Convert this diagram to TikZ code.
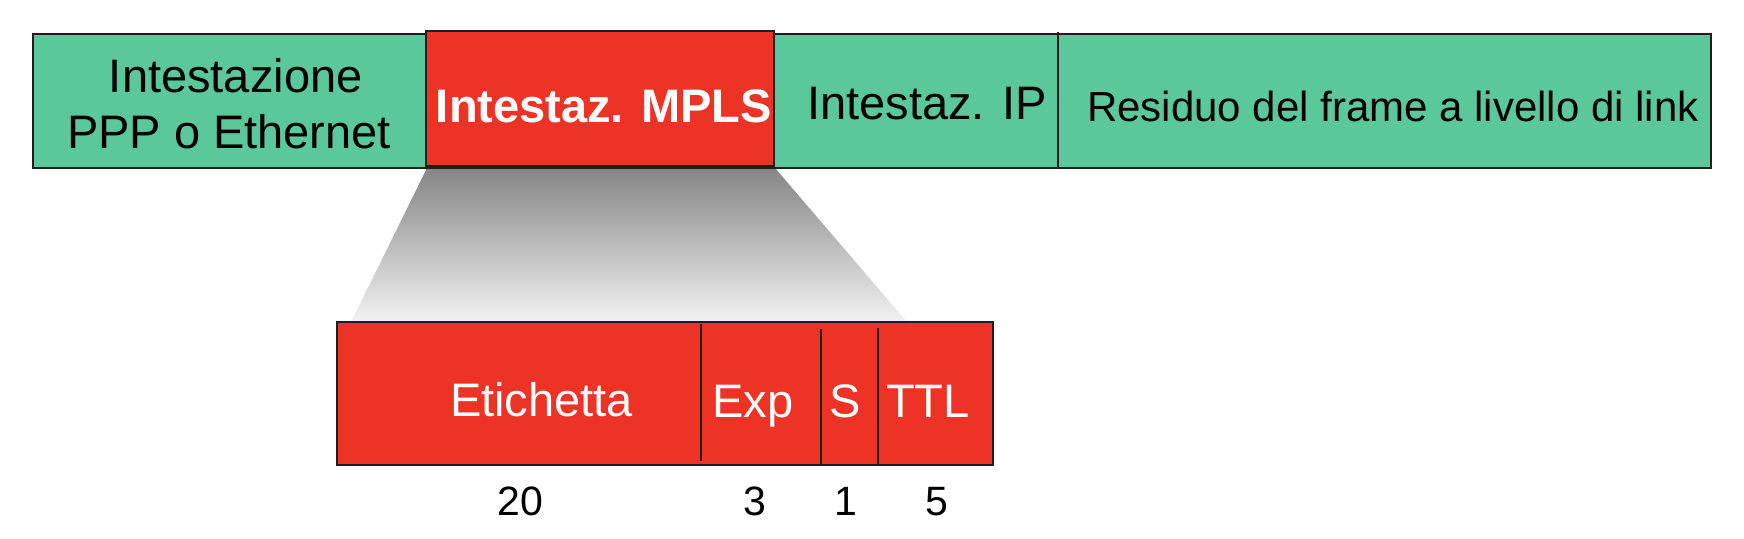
\documentclass[tikz,border=0pt]{standalone}
\usepackage{fontspec}
\setmainfont{Liberation Sans}
\definecolor{grn}{RGB}{90,200,155}
\definecolor{redf}{RGB}{236,51,37}
\definecolor{edgec}{RGB}{30,30,30}
\definecolor{shtop}{RGB}{133,133,133}
\definecolor{shbot}{RGB}{242,242,242}
\begin{document}
\begin{tikzpicture}[x=1pt,y=-1pt,
  box/.style={draw=edgec, line width=2.5pt, inner sep=0pt, outer sep=0pt, anchor=north west},
  greenbox/.style={box, fill=grn},
  redbox/.style={box, fill=redf},
  divider/.style={draw=edgec, line width=2pt},
  txt/.style={anchor=base, inner sep=0pt, font=\fontsize{47}{56}\selectfont},
  wtxt/.style={txt, text=white},
  numtxt/.style={anchor=base, inner sep=0pt, font=\fontsize{41}{49}\selectfont}]
\useasboundingbox (0,0) rectangle (1744,538);
% zoom shading
\coordinate (tl) at (427,168);
\coordinate (tr) at (775,168);
\coordinate (br) at (907,322);
\coordinate (bl) at (351,322);
\shade[top color=shtop, bottom color=shbot] (tl) -- (tr) -- (br) -- (bl) -- cycle;
% top frame
\node[greenbox, minimum width=1678pt, minimum height=134pt] (bar) at (33,34) {};
\node[redbox, minimum width=348pt, minimum height=135pt] (mpls) at (426,31) {};
\coordinate (d0t) at (1058,31.5);
\coordinate (d0b) at (1058,168);
\draw[divider] (d0t) -- (d0b);
% MPLS header detail
\node[redbox, minimum width=656pt, minimum height=143pt] (hdr) at (337,322) {};
\coordinate (d1t) at (701,324); \coordinate (d1b) at (701,461);
\coordinate (d2t) at (821,329); \coordinate (d2b) at (821,465);
\coordinate (d3t) at (878,328); \coordinate (d3b) at (878,465);
\draw[divider] (d1t) -- (d1b);
\draw[divider] (d2t) -- (d2b);
\draw[divider] (d3t) -- (d3b);
% texts
\node[txt] (t1a) at (235.7,92.7) {Intestazione};
\node[txt] (t1b) at (229,148.3) {PPP o Ethernet};
\node[wtxt, font=\fontsize{47}{56}\selectfont\bfseries] (t2) at (604,122.7) {Intestaz. MPLS};
\node[txt] (t3) at (927,119) {Intestaz. IP};
\node[txt, font=\fontsize{42}{50}\selectfont] (t4) at (1393,121) {Residuo del frame a livello di link};
\node[wtxt] (f1) at (541.5,416.7) {Etichetta};
\node[wtxt] (f2) at (753,417) {Exp};
\node[wtxt] (f3) at (845,417) {S};
\node[wtxt] (f4) at (928,417) {TTL};
\node[numtxt] (n1) at (520.3,515) {20};
\node[numtxt] (n2) at (755,515) {3};
\node[numtxt] (n3) at (845.7,515) {1};
\node[numtxt] (n4) at (936.7,515) {5};
\end{tikzpicture}
\end{document}
